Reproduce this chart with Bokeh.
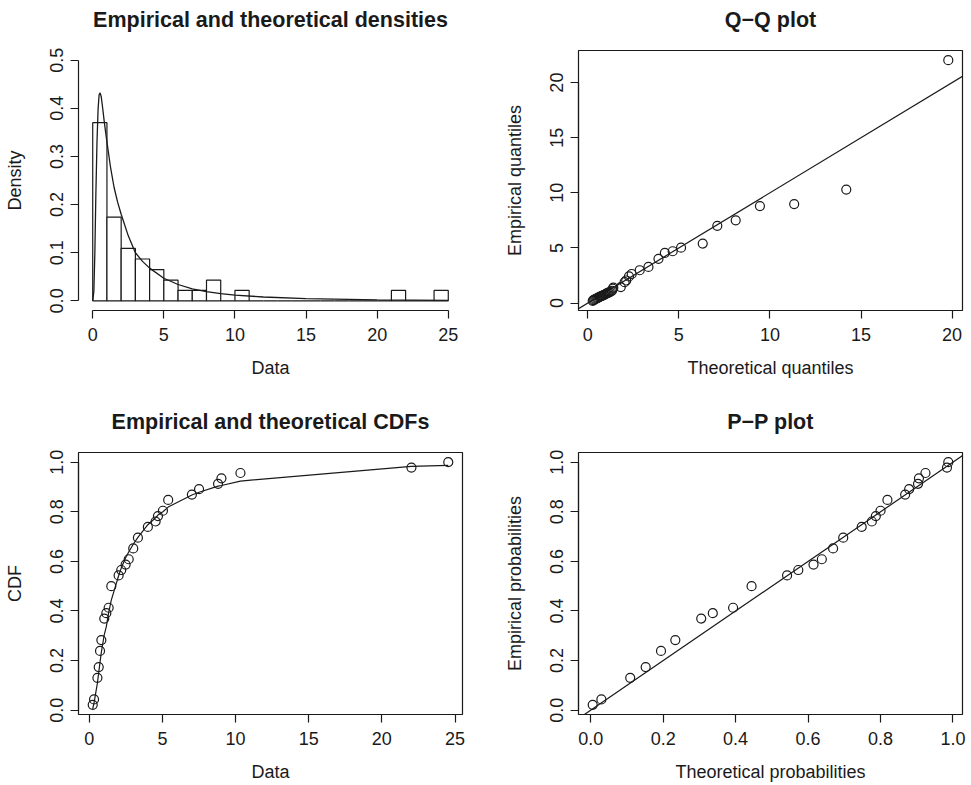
import math
from bokeh.plotting import figure
from bokeh.layouts import gridplot
from bokeh.models import Range1d, FixedTicker, PrintfTickFormatter, Slope, Title
from bokeh.embed import file_html
from bokeh.resources import INLINE

FONT = "Liberation Sans"
INK = "#1a1a1a"

# ---------------- data ----------------
# histogram (density scale), bins of width 1 from 0 to 25
hist_left = [0, 1, 2, 3, 4, 5, 6, 7, 8, 9, 10, 11, 12, 13, 14, 15, 16, 17, 18, 19, 20, 21, 22, 23, 24]
hist_right = [1, 2, 3, 4, 5, 6, 7, 8, 9, 10, 11, 12, 13, 14, 15, 16, 17, 18, 19, 20, 21, 22, 23, 24, 25]
hist_density = [0.370, 0.174, 0.109, 0.087, 0.065, 0.043, 0.0217, 0.0217, 0.043, 0.0, 0.0217, 0.0, 0.0,
                0.0, 0.0, 0.0, 0.0, 0.0, 0.0, 0.0, 0.0, 0.0217, 0.0, 0.0, 0.0217]

# fitted density curve
dens_x = [0.0, 0.08, 0.15, 0.22, 0.30, 0.38, 0.45, 0.52, 0.60, 0.70, 0.80, 0.90, 1.00, 1.25, 1.50,
          1.75, 2.00, 2.50, 3.00, 3.50, 4.00, 5.00, 6.00, 7.00, 8.00, 9.00, 10.0, 12.0, 15.0, 20.0, 25.0]
dens_y = [0.0, 0.02, 0.10, 0.22, 0.33, 0.40, 0.428, 0.432, 0.424, 0.400, 0.375, 0.352, 0.330, 0.278,
          0.236, 0.205, 0.180, 0.135, 0.100, 0.082, 0.068, 0.047, 0.034, 0.025, 0.019, 0.015, 0.012,
          0.008, 0.0048, 0.0022, 0.0012]

# empirical CDF points (distinct data values), empirical and theoretical probabilities
cdf_data = [0.23, 0.32, 0.55, 0.64, 0.73, 0.82, 1.02, 1.16, 1.32, 1.50, 2.00, 2.18, 2.48, 2.69, 3.00,
            3.32, 4.00, 4.53, 4.69, 5.03, 5.39, 7.01, 7.50, 8.80, 9.03, 10.33, 22.02, 24.54]
cdf_emp = [0.0217, 0.0435, 0.1304, 0.1739, 0.2391, 0.2826, 0.3696, 0.3913, 0.4130, 0.5000, 0.5435,
           0.5652, 0.5870, 0.6087, 0.6522, 0.6957, 0.7391, 0.7609, 0.7826, 0.8043, 0.8478, 0.8696,
           0.8913, 0.9130, 0.9348, 0.9565, 0.9783, 1.0000]
cdf_theo = [0.0055, 0.0294, 0.109, 0.1517, 0.194, 0.2335, 0.305, 0.337, 0.393, 0.444, 0.542, 0.573,
            0.615, 0.638, 0.669, 0.697, 0.748, 0.776, 0.787, 0.800, 0.819, 0.868, 0.879, 0.9035,
            0.906, 0.924, 0.9834, 0.987]

# Q-Q plot points
qq_theo = [0.27, 0.31, 0.36, 0.42, 0.48, 0.53, 0.58, 0.63, 0.68, 0.73, 0.78, 0.84, 0.90, 0.96, 1.02,
           1.08, 1.14, 1.20, 1.27, 1.33, 1.37, 1.40, 1.81, 2.02, 2.11, 2.26, 2.41, 2.85, 3.33, 3.88,
           4.23, 4.66, 5.12, 6.31, 7.11, 8.12, 9.45, 11.33, 14.19, 19.79]
qq_emp = [0.20, 0.26, 0.32, 0.37, 0.41, 0.46, 0.50, 0.55, 0.58, 0.62, 0.66, 0.70, 0.75, 0.80, 0.85,
          0.90, 0.95, 1.00, 1.05, 1.12, 1.30, 1.40, 1.45, 1.90, 2.05, 2.42, 2.64, 2.98, 3.28, 4.01,
          4.55, 4.70, 5.03, 5.40, 7.01, 7.51, 8.80, 8.98, 10.30, 22.04]


def rrange(vals):
    lo, hi = min(vals), max(vals)
    d = (hi - lo) * 0.04
    return Range1d(lo - d, hi + d)


def make_fig(width, height, xr, yr, left, right, top, bottom):
    return figure(width=width, height=height, x_range=xr, y_range=yr,
                  output_backend="svg", toolbar_location=None,
                  min_border_left=left, min_border_right=right,
                  min_border_top=top, min_border_bottom=bottom,
                  background_fill_color="white", border_fill_color="white")


def style(p, title, xlabel, ylabel, xticks, yticks, xfmt, yfmt, box, spacer_px):
    p.title.text = title
    p.title.text_font = FONT
    p.title.text_font_style = "bold"
    p.title.text_font_size = "21.5px"
    p.title.text_color = INK
    p.title.align = "center"
    # empty spacer between the frame and the title, to lift the title
    p.add_layout(Title(text=" ", text_font_size=spacer_px, text_font=FONT), "above")
    p.grid.visible = False
    p.outline_line_color = INK if box else None
    p.outline_line_width = 1.2
    p.xaxis.ticker = FixedTicker(ticks=xticks)
    p.yaxis.ticker = FixedTicker(ticks=yticks)
    p.xaxis.bounds = (xticks[0], xticks[-1])
    p.yaxis.bounds = (yticks[0], yticks[-1])
    p.xaxis.formatter = PrintfTickFormatter(format=xfmt)
    p.yaxis.formatter = PrintfTickFormatter(format=yfmt)
    p.xaxis.axis_label = xlabel
    p.yaxis.axis_label = ylabel
    for ax in (p.xaxis, p.yaxis):
        ax.major_tick_out = 8
        ax.major_tick_in = 0
        ax.minor_tick_out = 0
        ax.minor_tick_in = 0
        ax.axis_line_color = INK
        ax.axis_line_width = 1.2
        ax.major_tick_line_color = INK
        ax.major_tick_line_width = 1.2
        ax.major_label_text_font = FONT
        ax.major_label_text_font_size = "18px"
        ax.major_label_text_color = INK
        ax.axis_label_text_font = FONT
        ax.axis_label_text_font_size = "18px"
        ax.axis_label_text_font_style = "normal"
        ax.axis_label_text_color = INK
    p.xaxis.major_label_standoff = 9
    p.xaxis.axis_label_standoff = 14
    p.yaxis.major_label_orientation = "parallel"
    p.yaxis.major_label_standoff = 7
    p.yaxis.axis_label_standoff = 23


# ---------------- panel 1: densities ----------------
p1 = make_fig(485, 392, rrange(hist_left + hist_right), rrange([0.0, 0.5]), 78, 23, 47, 82)
style(p1, "Empirical and theoretical densities", "Data", "Density",
      [0, 5, 10, 15, 20, 25], [0.0, 0.1, 0.2, 0.3, 0.4, 0.5], "%d", "%.1f", False, "2px")
p1.quad(left=hist_left, right=hist_right, bottom=0, top=hist_density,
        fill_color="white", line_color=INK, line_width=1.2)
p1.line(dens_x, dens_y, line_color=INK, line_width=1.3)

# ---------------- panel 2: Q-Q ----------------
p2 = make_fig(486, 392, rrange(qq_theo), rrange(qq_emp), 93, 9, 47, 82)
style(p2, "Q\u2212Q plot", "Theoretical quantiles", "Empirical quantiles",
      [0, 5, 10, 15, 20], [0, 5, 10, 15, 20], "%d", "%d", True, "2px")
p2.add_layout(Slope(gradient=1, y_intercept=0, line_color=INK, line_width=1.2))
p2.scatter(qq_theo, qq_emp, marker="circle", size=9, fill_color=None,
           line_color=INK, line_width=1.2)

# ---------------- panel 3: CDFs ----------------
p3 = make_fig(485, 393, rrange(cdf_data), rrange(cdf_emp), 78, 23, 60, 71)
style(p3, "Empirical and theoretical CDFs", "Data", "CDF",
      [0, 5, 10, 15, 20, 25], [0.0, 0.2, 0.4, 0.6, 0.8, 1.0], "%d", "%.1f", True, "2px")
p3.line(cdf_data, cdf_theo, line_color=INK, line_width=1.2)
p3.scatter(cdf_data, cdf_emp, marker="circle", size=9, fill_color=None,
           line_color=INK, line_width=1.2)

# ---------------- panel 4: P-P ----------------
p4 = make_fig(486, 393, rrange(cdf_theo), rrange(cdf_emp), 93, 9, 60, 71)
style(p4, "P\u2212P plot", "Theoretical probabilities", "Empirical probabilities",
      [0.0, 0.2, 0.4, 0.6, 0.8, 1.0], [0.0, 0.2, 0.4, 0.6, 0.8, 1.0], "%.1f", "%.1f", True, "2px")
p4.add_layout(Slope(gradient=1, y_intercept=0, line_color=INK, line_width=1.2))
p4.scatter(cdf_theo, cdf_emp, marker="circle", size=9, fill_color=None,
           line_color=INK, line_width=1.2)

grid = gridplot([[p1, p2], [p3, p4]], toolbar_location=None)

open("out.html", "w").write(file_html(grid, INLINE))
